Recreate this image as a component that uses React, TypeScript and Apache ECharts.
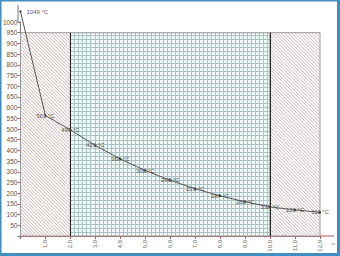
import React, { useEffect, useRef } from "react";
import * as echarts from "echarts";

const xValues = [0, 1, 2, 3, 4, 5, 6, 7, 8, 9, 10, 11, 12];
const temps = [1049, 563, 496, 423, 360, 306, 260, 221, 187, 160, 136, 122, 111];
const yTicks = [0, 50, 100, 150, 200, 250, 300, 350, 400, 450, 500, 550, 600, 650, 700, 750, 800, 850, 900, 950, 1000];
// zones: [from, to, kind] kind 0 = hatched (left), 1 = grid paper, 2 = hatched (right)
const zoneFrom = [0, 2, 10];
const zoneTo = [2, 10, 12];
const zoneKind = [0, 1, 2];
const zoneTop = 950;

function renderZone(params: any, api: any) {
  const a = api.coord([api.value(0), 0]);
  const b = api.coord([api.value(1), zoneTop]);
  const kind = api.value(2);
  const x0 = a[0], yb = a[1], x1 = b[0], yt = b[1];
  const w = x1 - x0, h = yb - yt;
  const children: any[] = [];
  if (kind === 1) {
    children.push({ type: "rect", shape: { x: x0, y: yt, width: w, height: h }, style: { fill: "#f1f8f8" } });
    const step = 4.02;
    for (let x = x0 + step; x < x1 - 0.5; x += step) {
      children.push({ type: "line", shape: { x1: Math.round(x) + 0.5, y1: yt, x2: Math.round(x) + 0.5, y2: yb }, style: { stroke: "#a9c2c2", lineWidth: 1 } });
    }
    for (let y = yb - step; y > yt + 0.5; y -= step) {
      children.push({ type: "line", shape: { x1: x0, y1: Math.round(y) + 0.5, x2: x1, y2: Math.round(y) + 0.5 }, style: { stroke: "#a9c2c2", lineWidth: 1 } });
    }
  } else {
    children.push({ type: "rect", shape: { x: x0, y: yt, width: w, height: h }, style: { fill: "#ffffff" } });
    const d = 3.4;
    const col = kind === 0 ? "#c49a9a" : "#b9a6a6";
    for (let k = d; k < w + h; k += d) {
      const t0 = Math.max(0, k - h);
      const t1 = Math.min(w, k);
      children.push({
        type: "line",
        shape: { x1: x0 + t0, y1: yb - (k - t0), x2: x0 + t1, y2: yb - (k - t1) },
        style: { stroke: col, lineWidth: 0.8 },
      });
    }
  }
  children.push({ type: "rect", shape: { x: x0, y: yt, width: w, height: h }, style: { fill: "none", stroke: "#9a9a9a", lineWidth: 1 } });
  return { type: "group", children };
}

export default function App() {
  const ref = useRef<HTMLDivElement>(null);
  useEffect(() => {
    const chart = echarts.init(ref.current!, null, { renderer: "svg" });
    const font = "'Liberation Sans', Arial, sans-serif";
    chart.setOption({
      animation: false,
      backgroundColor: "#ffffff",
      grid: { left: 18, right: 20, top: 22, bottom: 20 },
      xAxis: {
        type: "value",
        min: 0,
        max: 12,
        interval: 1,
        splitLine: { show: false },
        axisLine: { lineStyle: { color: "#b05a5a", width: 1 } },
        axisTick: { show: true, length: 3, lineStyle: { color: "#b05a5a" } },
        axisLabel: {
          rotate: 90,
          fontSize: 6,
          color: "#666",
          fontFamily: font,
          margin: 4,
          formatter: (v: number) => (v === 0 ? "" : v.toFixed(1).replace(".", ",")),
        },
      },
      yAxis: {
        type: "value",
        min: 0,
        max: 1000,
        interval: 50,
        splitLine: { show: false },
        axisLine: { show: true, lineStyle: { color: "#777", width: 1 } },
        axisTick: { show: true, length: 3, lineStyle: { color: "#777" } },
        axisLabel: {
          fontSize: 6.5,
          color: "#555",
          fontFamily: font,
          margin: 3,
          formatter: (v: number) => (v === 0 || !yTicks.includes(v) ? "" : String(v)),
        },
      },
      graphic: [
        { type: "line", shape: { x1: 18, y1: 22, x2: 18, y2: 5 }, style: { stroke: "#777", lineWidth: 1 } },
        { type: "line", shape: { x1: 320, y1: 236, x2: 334, y2: 236 }, style: { stroke: "#b05a5a", lineWidth: 1 } },
        { type: "text", x: 333, y: 244, rotation: Math.PI / 2, style: { text: "t", fontSize: 6, fill: "#666", fontFamily: font, align: "center", verticalAlign: "middle" } },
        { type: "rect", shape: { x: 0, y: 0, width: 340, height: 1.5 }, style: { fill: "#3f8fc0" } },
        { type: "rect", shape: { x: 0, y: 0, width: 1.5, height: 256 }, style: { fill: "#3f8fc0" } },
        { type: "rect", shape: { x: 337, y: 0, width: 3, height: 256 }, style: { fill: "#3f8fc0" } },
        { type: "rect", shape: { x: 0, y: 253, width: 340, height: 3 }, style: { fill: "#3f8fc0" } },
      ],
      series: [
        {
          type: "custom",
          data: zoneFrom.map((f, i) => [f, zoneTo[i], zoneKind[i]]),
          encode: { x: [0, 1] },
          renderItem: renderZone,
          clip: false,
          silent: true,
          z: 1,
        },
        {
          type: "line",
          data: xValues.map((x, i) =>
            i === 0
              ? { value: [x, temps[i]], label: { position: "right", offset: [2, 0] } }
              : [x, temps[i]]
          ),
          clip: false,
          symbol: "rect",
          symbolSize: 2,
          z: 5,
          lineStyle: { color: "#555", width: 1 },
          itemStyle: { color: "#333" },
          label: {
            show: true,
            position: "inside",
            offset: [0, 2],
            fontSize: 6,
            color: "#555",
            fontFamily: font,
            formatter: (p: any) => p.value[1] + " °C",
          },
          labelLayout: { hideOverlap: false },
          markLine: {
            silent: true,
            symbol: "none",
            label: { show: false },
            lineStyle: { color: "#222", width: 1, type: "solid" },
            data: [
              [{ xAxis: zoneFrom[1], yAxis: 0 }, { xAxis: zoneFrom[1], yAxis: zoneTop }],
              [{ xAxis: zoneTo[1], yAxis: 0 }, { xAxis: zoneTo[1], yAxis: zoneTop }],
            ],
          },
        },
      ],
    });
    return () => chart.dispose();
  }, []);
  return (
    <div
      ref={ref}
      style={{ position: "fixed", left: 0, top: 0, width: 340, height: 256 }}
    />
  );
}
